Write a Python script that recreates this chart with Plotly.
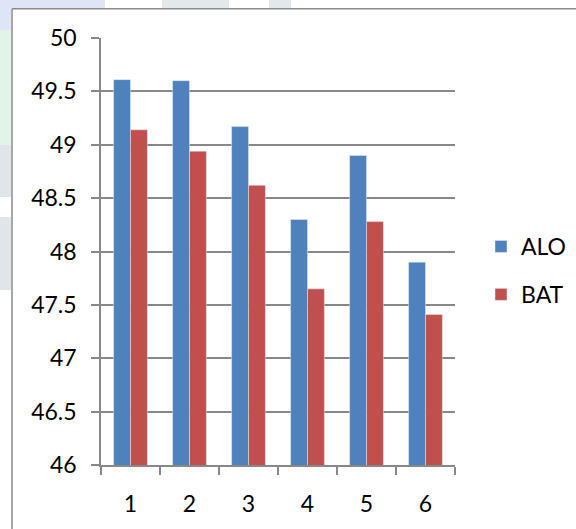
import plotly.graph_objects as go

# Data
categories = ["1", "2", "3", "4", "5", "6"]
alo_values = [49.61, 49.60, 49.17, 48.30, 48.90, 47.90]
bat_values = [49.14, 48.94, 48.62, 47.65, 48.28, 47.41]
y_ticks = [46, 46.5, 47, 47.5, 48, 48.5, 49, 49.5, 50]
y_tick_labels = ["46", "46.5", "47", "47.5", "48", "48.5", "49", "49.5", "50"]

BLUE = "#4F81BD"
RED = "#C0504D"
GRID = "#888888"
FONT = "Lato, Calibri, 'Liberation Sans', sans-serif"
FONT_SIZE = 23

fig = go.Figure()
fig.add_trace(go.Bar(name="ALO", x=categories, y=alo_values, marker_color=BLUE,
                     legendgroup="a"))
fig.add_trace(go.Bar(name="BAT", x=categories, y=bat_values, marker_color=RED,
                     legendgroup="b"))

# plot-area edges in page pixels (must agree with the margins below)
W, H = 576, 529
L, R, T, B = 101, 455, 38, 465


def px_x(x):
    return (x - L) / (R - L)


def px_y(y):
    return (B - y) / (B - T)


def px_rect(x0, x1, y0, y1, color):
    """Filled rectangle given in page pixels."""
    return dict(type="rect", xref="paper", yref="paper",
                x0=px_x(x0), x1=px_x(x1), y0=px_y(y1), y1=px_y(y0),
                fillcolor=color, line=dict(width=0), layer="below")


def px_line(x0, y0, x1, y1):
    return dict(type="line", xref="paper", yref="paper",
                x0=px_x(x0), x1=px_x(x1), y0=px_y(y0), y1=px_y(y1),
                line=dict(color="#8a8a8a", width=1.5), layer="below")


# faint tint strips just outside the chart frame
tints = [
    px_rect(0, 105, 0, 8, "#dfe4f6"),
    px_rect(0, 11, 0, 30, "#dfe4f6"),
    px_rect(0, 11, 30, 145, "#e2f4e8"),
    px_rect(0, 11, 145, 197, "#dfe5e8"),
    px_rect(0, 11, 217, 290, "#dfe5e8"),
    px_rect(162, 229, 0, 8, "#e3e8ea"),
    px_rect(269, 291, 0, 8, "#e3e8ea"),
]
# grey chart frame (left and top edges; the rest runs off the page)
frame = [px_line(12, 8.7, 12, H + 30), px_line(12, 8.7, W + 30, 8.7)]

fig.update_layout(
    width=W, height=H,
    margin=dict(l=L, r=W - R, t=T, b=H - B, autoexpand=False),
    paper_bgcolor="white",
    plot_bgcolor="rgba(0,0,0,0)",
    font=dict(family=FONT, size=FONT_SIZE, color="#000000"),
    barmode="group",
    bargap=0.427,
    bargroupgap=0,
    shapes=tints + frame,
    legend=dict(x=px_x(481), y=px_y(270.5), xanchor="left", yanchor="middle",
                traceorder="grouped", tracegroupgap=15,
                font=dict(size=FONT_SIZE), bgcolor="rgba(0,0,0,0)", itemwidth=30),
    xaxis=dict(type="category", showline=True, linecolor=GRID, linewidth=1.5,
               ticks="outside", ticklen=8, tickcolor=GRID, tickwidth=1.5,
               tickson="boundaries", showgrid=False, ticklabelstandoff=18),
    yaxis=dict(range=[46, 50], tickvals=y_ticks, ticktext=y_tick_labels,
               showline=True, linecolor=GRID, linewidth=1.5,
               ticks="outside", ticklen=8, tickcolor=GRID, tickwidth=1.5,
               showgrid=True, gridcolor=GRID, gridwidth=1.5,
               zeroline=False, ticklabelstandoff=10),
)

fig.write_html("out.html")
